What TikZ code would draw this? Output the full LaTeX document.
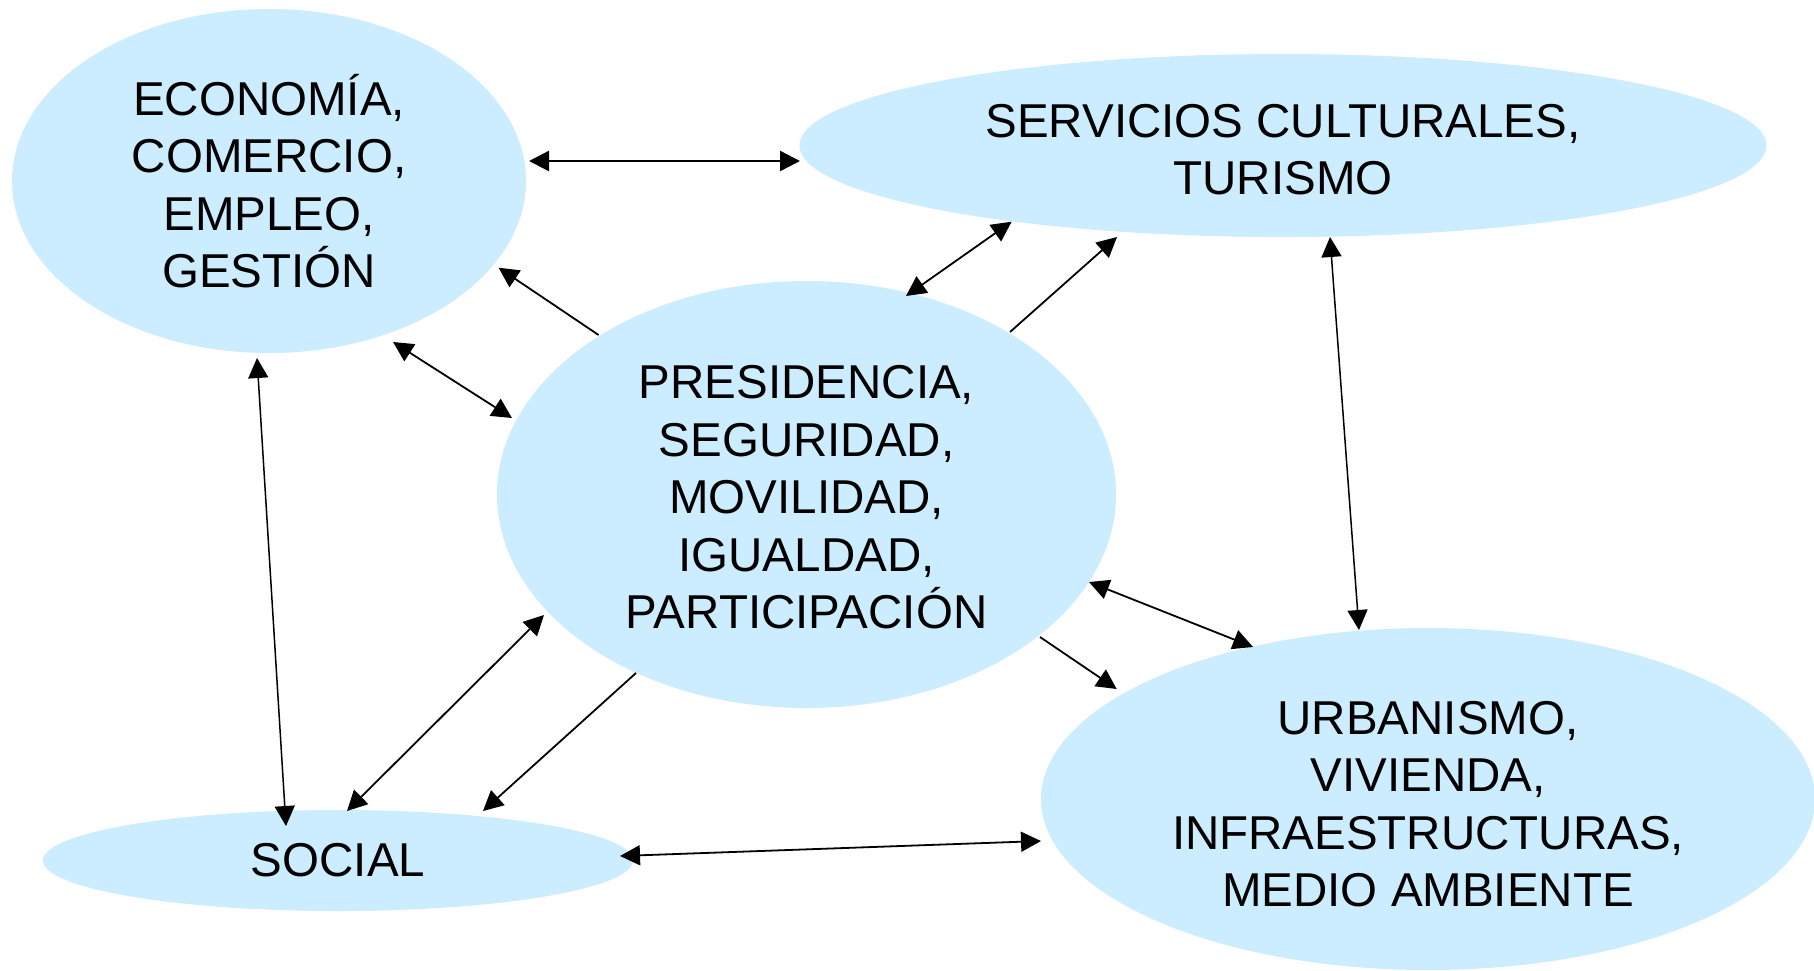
\documentclass[tikz,border=0pt]{standalone}
\usepackage{fontspec}
\setmainfont{Liberation Sans}
\usetikzlibrary{shapes.geometric,arrows.meta}
\definecolor{bub}{HTML}{CCECFF}
\newcommand\bubfont{\fontsize{47.5pt}{57.5pt}\selectfont}
\begin{document}
\begin{tikzpicture}[x=1pt,y=-1pt,
  bubble/.style={ellipse, fill=bub, inner sep=0pt, align=center, font=\bubfont, text=black},
  conn/.style={draw=black, line width=1.8pt},
  both/.style={conn, {Triangle[length=20pt,width=20pt]}-{Triangle[length=20pt,width=20pt]}},
  one/.style={conn, -{Triangle[length=20pt,width=20pt]}},
  thinline/.style={line width=1.5pt}]
\useasboundingbox (0,0) rectangle (1814,970);
\fill[white] (0,0) rectangle (1814,970);

\node[bubble, minimum width=514pt, minimum height=344pt] (econ) at (269,181)
  {ECONOMÍA,\\COMERCIO,\\EMPLEO,\\GESTIÓN};
\node[bubble, minimum width=967pt, minimum height=183pt] (serv) at (1283,145.5)
  {\rule{0pt}{41pt}SERVICIOS CULTURALES,\\TURISMO};
\node[bubble, minimum width=619pt, minimum height=427pt] (pres) at (806.5,494.5)
  {\rule{0pt}{38.6pt}PRESIDENCIA,\\SEGURIDAD,\\MOVILIDAD,\\IGUALDAD,\\PARTICIPACIÓN};
\node[bubble, minimum width=590pt, minimum height=101pt] (social) at (338,860.5)
  {SOCIAL};
\node[bubble, minimum width=774pt, minimum height=342pt] (urban) at (1428,799)
  {\rule{0pt}{43.6pt}URBANISMO,\\VIVIENDA,\\INFRAESTRUCTURAS,\\MEDIO AMBIENTE};

% connectors (end points given relative to the centres of the bubbles)
\draw[both, line width=2.4pt] ([shift={(260,-20)}]econ.center) -- ([shift={(-483,15.5)}]serv.center);
\draw[one] ([shift={(-207.9,-159.5)}]pres.center) -- ([shift={(229.6,86.7)}]econ.center);
\draw[both] ([shift={(124,161)}]econ.center) -- ([shift={(-294.5,-76.5)}]pres.center);
\draw[both, thinline] ([shift={(-12,177)}]econ.center) -- ([shift={(-52,-34.5)}]social.center);
\draw[both] ([shift={(99.5,-198.5)}]pres.center) -- ([shift={(-271.4,76.2)}]serv.center);
\draw[one] ([shift={(203.5,-162.5)}]pres.center) -- ([shift={(-166,91.5)}]serv.center);
\draw[both, thinline] ([shift={(47,91.5)}]serv.center) -- ([shift={(-69,-169)}]urban.center);
\draw[both] ([shift={(282.5,87.5)}]pres.center) -- ([shift={(-175,-152)}]urban.center);
\draw[one] ([shift={(233.5,142.5)}]pres.center) -- ([shift={(-311.3,-110)}]urban.center);
\draw[both] ([shift={(9,-49.5)}]social.center) -- ([shift={(-262.5,120.5)}]pres.center);
\draw[one] ([shift={(-170.5,178.5)}]pres.center) -- ([shift={(145,-49.5)}]social.center);
\draw[both] ([shift={(282,-4.5)}]social.center) -- ([shift={(-387,42)}]urban.center);
\end{tikzpicture}
\end{document}
